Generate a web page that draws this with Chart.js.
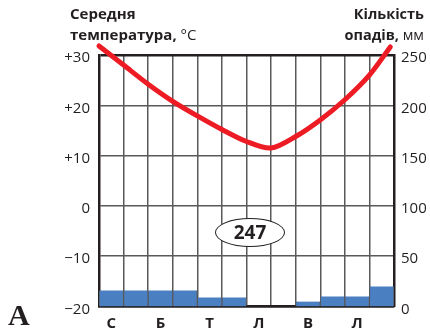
<!DOCTYPE html>
<html lang="uk">
<head>
<meta charset="utf-8">
<script src="https://cdn.jsdelivr.net/npm/chart.js@4/dist/chart.umd.min.js"></script>
<style>
body { margin: 0; background: #fff; }
#wrap { position: relative; width: 430px; height: 335px; font-family: "Open Sans", sans-serif; color: #231f20; }
#grafik { position: absolute; left: 0; top: 0; }
.zag { position: absolute; font-size: 15px; line-height: 21px; font-weight: bold; white-space: nowrap; }
.zag span { font-weight: normal; }
#livyi { left: 70px; top: 3px; }
#pravyi { right: 6px; top: 3px; text-align: right; font-size: 14.5px; }
#suma { position: absolute; left: 215px; top: 218px; width: 68px; height: 27px; border: 1.5px solid #231f20; border-radius: 50%; background: #fff; text-align: center; font: bold 19px/27px "Open Sans", sans-serif; }
#litera { position: absolute; left: 8px; top: 298px; font: bold 30px "Liberation Serif", serif; }
</style>
</head>
<body>
<div id="wrap">
  <canvas id="grafik" width="430" height="335"></canvas>
  <div class="zag" id="livyi">Середня<br>температура, <span>°C</span></div>
  <div class="zag" id="pravyi">Кількість<br>опадів, <span>мм</span></div>
  <div id="suma">247</div>
  <div id="litera">A</div>
</div>
<script>
// місяці (підписи лише під непарними)
var misyatsi = ['С', '', 'Б', '', 'Т', '', 'Л', '', 'В', '', 'Л', '', ''];
// опади по місяцях, мм
var opady = [16, 16, 16, 16, 9, 9, 0, 0, 5, 10, 10, 20];
// крива температури: положення на шкалі місяців і значення, °C
var tempPos = [0, 1, 2, 3, 4, 5, 6, 7, 8, 9, 10, 11, 11.85];
var temperatura = [31.8, 28.0, 24.2, 20.8, 17.9, 15.2, 12.8, 11.5, 13.8, 17.1, 21.1, 26.0, 31.6];
// поділки осей
var misTicks = [0, 1, 2, 3, 4, 5, 6, 7, 8, 9, 10, 11, 12];
var tempTicks = [-20, -10, 0, 10, 20, 30];
var tempText = ['−20', '−10', '0', '+10', '+20', '+30'];
var opadyTicks = [0, 50, 100, 150, 200, 250];

var chorny = '#231f20';
var sitka = '#58595b';
var shryft = { family: '"Open Sans", sans-serif', size: 15 };

var stovpchyky = [];
for (var i = 0; i < opady.length; i++) {
    stovpchyky.push({ x: i + 0.5, y: opady[i] });
}
var kryva = [];
for (var j = 0; j < tempPos.length; j++) {
    kryva.push({ x: tempPos[j], y: temperatura[j] });
}

function nabirTickiv(values) {
    return function (axis) {
        axis.ticks = values.map(function (v) { return { value: v }; });
    };
}

new Chart(document.getElementById('grafik'), {
    type: 'bar',
    data: {
        datasets: [{
            type: 'line',
            data: kryva,
            xAxisID: 'x',
            yAxisID: 'y',
            borderColor: '#ed1c24',
            borderWidth: 5,
            borderCapStyle: 'round',
            tension: 0.3,
            pointRadius: 0,
            clip: false
        }, {
            data: stovpchyky,
            xAxisID: 'x',
            yAxisID: 'y2',
            backgroundColor: '#4a7fc1',
            // межі стовпчиків повторюють сітку
            borderColor: sitka,
            borderWidth: { left: 1, right: 1, top: 0, bottom: 0 },
            borderSkipped: false,
            barPercentage: 1,
            categoryPercentage: 1
        }]
    },
    options: {
        responsive: false,
        animation: false,
        devicePixelRatio: 1,
        layout: { padding: { top: 55, left: 0, right: 0, bottom: 0 } },
        plugins: { legend: { display: false }, tooltip: { enabled: false } },
        scales: {
            x: {
                type: 'linear',
                min: 0,
                max: 12,
                offset: false,
                afterBuildTicks: nabirTickiv(misTicks),
                afterFit: function (s) { s.height = 28.5; },
                grid: { offset: false, drawTicks: false, lineWidth: 1.5, color: sitka },
                border: { color: chorny, width: 2.5 },
                ticks: {
                    autoSkip: false,
                    maxRotation: 0,
                    padding: 8,
                    // підпис посередині місяця
                    labelOffset: 12.3,
                    color: chorny,
                    font: { family: shryft.family, size: 15, weight: 'bold' },
                    callback: function (v) {
                        return misyatsi[v];
                    }
                }
            },
            y: {
                position: 'left',
                min: -20,
                max: 30,
                afterBuildTicks: nabirTickiv(tempTicks),
                afterFit: function (s) { s.width = 99; },
                grid: {
                    drawTicks: false,
                    lineWidth: function (c) {
                        return c.tick && (c.tick.value === 30 || c.tick.value === -20) ? 2.5 : 1.5;
                    },
                    color: function (c) {
                        return c.tick && (c.tick.value === 30 || c.tick.value === -20) ? chorny : sitka;
                    }
                },
                border: { color: chorny, width: 2.5 },
                ticks: {
                    padding: 9,
                    labelOffset: 3,
                    color: chorny,
                    font: shryft,
                    callback: function (v) {
                        return tempText[tempTicks.indexOf(v)];
                    }
                }
            },
            y2: {
                position: 'right',
                min: 0,
                max: 250,
                afterBuildTicks: nabirTickiv(opadyTicks),
                afterFit: function (s) { s.width = 36; },
                grid: { display: false, drawTicks: false },
                border: { color: chorny, width: 2.5 },
                ticks: {
                    padding: 7,
                    labelOffset: 3,
                    color: chorny,
                    font: shryft
                }
            }
        }
    }
});
</script>
</body>
</html>
